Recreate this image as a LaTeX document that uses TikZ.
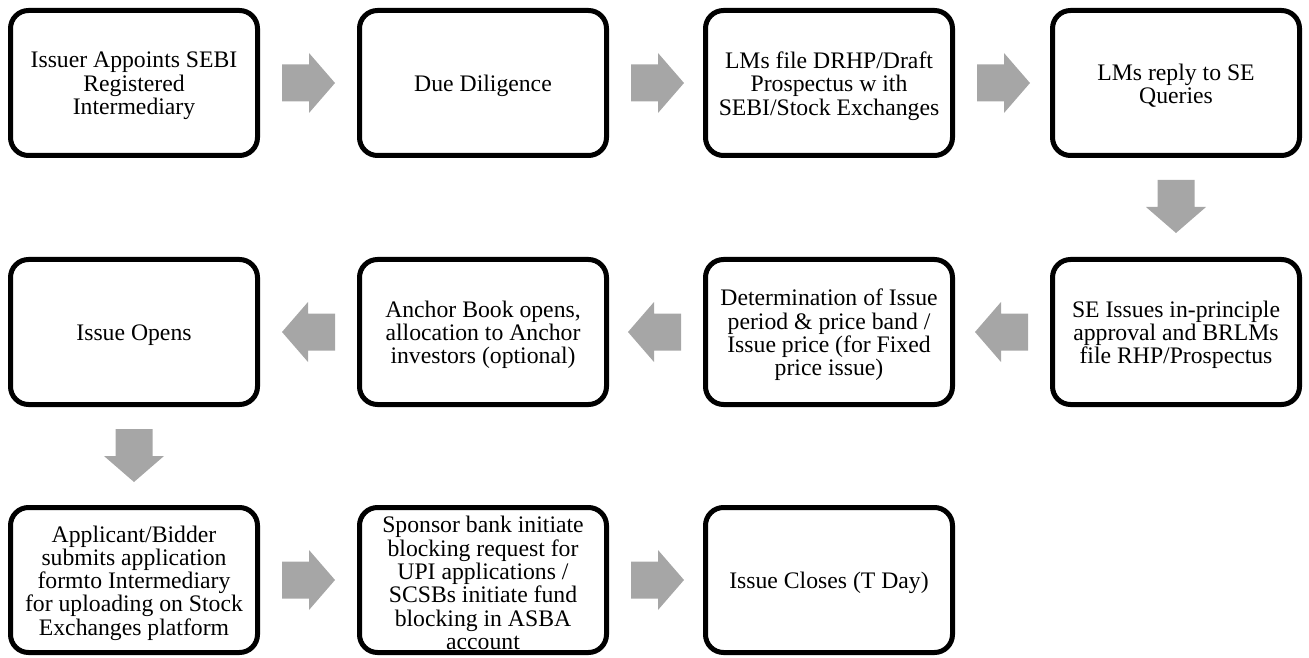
\documentclass[tikz,border=0pt]{standalone}
\usepackage{fontspec}
\setmainfont{Liberation Serif}
\definecolor{arrowgray}{RGB}{166,166,166}
\newcommand\blockarrow[2]{%
  \fill[arrowgray, shift={(#1)}, rotate=#2]
    (22,-18.5) -- (49,-18.5) -- (49,-30) -- (75,0) -- (49,30) -- (49,18.5) -- (22,18.5) -- cycle;}
\begin{document}
\begin{tikzpicture}[x=1pt,y=1pt,
  stepbox/.style={draw=black, line width=5pt, rounded corners=18pt,
    minimum width=247pt, minimum height=145pt, inner sep=0pt, fill=white},
  steptext/.style={align=center, font=\fontsize{23.7}{23.3}\selectfont, inner sep=0pt, yshift=-3pt}]
\useasboundingbox (0,0) rectangle (1309,657);

\node[stepbox] (b1) at (134,574) {};
\node[stepbox] (b2) at (483,574) {};
\node[stepbox] (b3) at (829,574) {};
\node[stepbox] (b4) at (1176,574) {};
\node[stepbox] (b5) at (1176,325) {};
\node[stepbox] (b6) at (829,325) {};
\node[stepbox] (b7) at (483,325) {};
\node[stepbox] (b8) at (134,325) {};
\node[stepbox] (b9) at (134,77) {};
\node[stepbox] (b10) at (483,77) {};
\node[stepbox] (b11) at (829,77) {};

\node[steptext] (t1) at (b1.center) {Issuer Appoints SEBI\\Registered\\Intermediary};
\node[steptext] (t2) at (b2.center) {Due Diligence};
\node[steptext] (t3) at (b3.center) {LMs file DRHP/Draft\\Prospectus w ith\\SEBI/Stock Exchanges};
\node[steptext] (t4) at (b4.center) {LMs reply to SE\\Queries};
\node[steptext] (t5) at (b5.center) {SE Issues in-principle\\approval and BRLMs\\file RHP/Prospectus};
\node[steptext] (t6) at (b6.center) {Determination of Issue\\period \& price band /\\Issue price (for Fixed\\price issue)};
\node[steptext] (t7) at (b7.center) {Anchor Book opens,\\allocation to Anchor\\investors (optional)};
\node[steptext] (t8) at (b8.center) {Issue Opens};
\node[steptext] (t9) at (b9.center) {Applicant/Bidder\\submits application\\formto Intermediary\\for uploading on Stock\\Exchanges platform};
\node[steptext] (t10) at (b10.center) {Sponsor bank initiate\\blocking request for\\UPI applications /\\SCSBs initiate fund\\blocking in ASBA\\account};
\node[steptext] (t11) at (b11.center) {Issue Closes (T Day)};

\blockarrow{b1.east}{0}
\blockarrow{b2.east}{0}
\blockarrow{b3.east}{0}
\blockarrow{b4.south}{-90}
\blockarrow{b5.west}{180}
\blockarrow{b6.west}{180}
\blockarrow{b7.west}{180}
\blockarrow{b8.south}{-90}
\blockarrow{b9.east}{0}
\blockarrow{b10.east}{0}
\end{tikzpicture}
\end{document}
